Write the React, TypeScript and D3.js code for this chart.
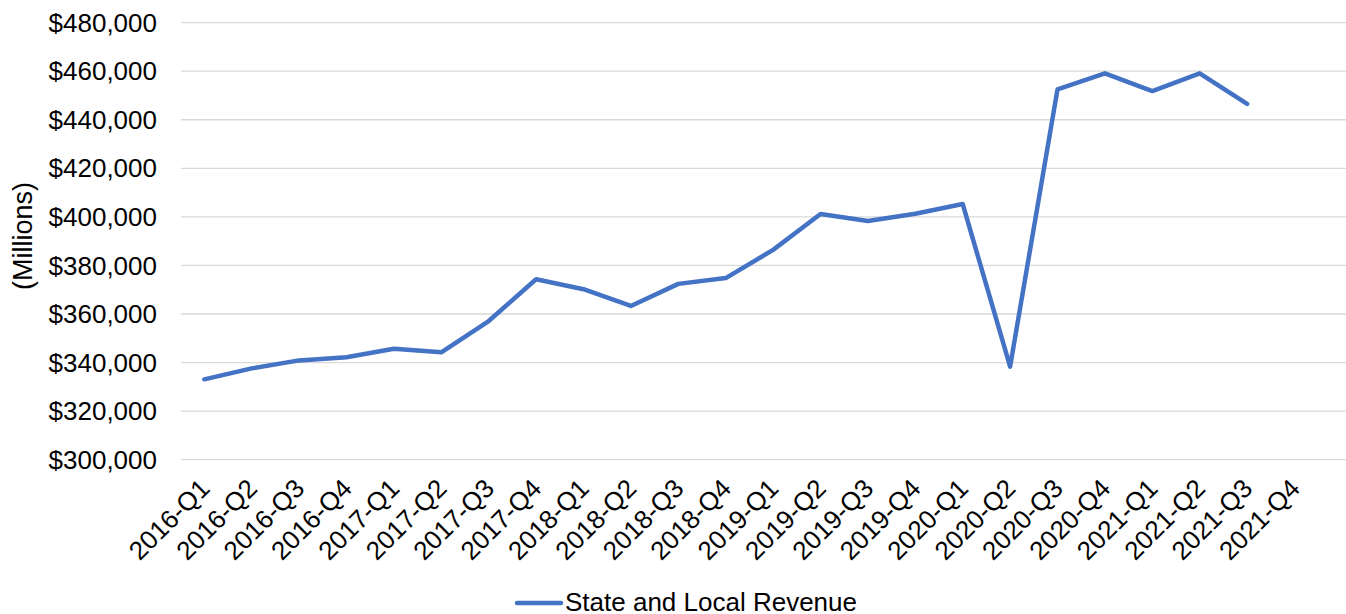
import React from "react";
import * as d3 from "d3";

const categories: string[] = [
  "2016-Q1", "2016-Q2", "2016-Q3", "2016-Q4",
  "2017-Q1", "2017-Q2", "2017-Q3", "2017-Q4",
  "2018-Q1", "2018-Q2", "2018-Q3", "2018-Q4",
  "2019-Q1", "2019-Q2", "2019-Q3", "2019-Q4",
  "2020-Q1", "2020-Q2", "2020-Q3", "2020-Q4",
  "2021-Q1", "2021-Q2", "2021-Q3", "2021-Q4",
];

const revenue: (number | null)[] = [
  333100, 337600, 340900, 342200,
  345700, 344200, 357100, 374300,
  370200, 363300, 372400, 374800,
  386400, 401200, 398300, 401300,
  405300, 338300, 452500, 459100,
  451800, 459100, 446500, null,
];

const yTicks: number[] = [300000, 320000, 340000, 360000, 380000, 400000, 420000, 440000, 460000, 480000];

const seriesName = "State and Local Revenue";
const yTitle = "(Millions)";

const W = 1346;
const H = 614;
const FONT = "'Liberation Sans', Arial, Helvetica, sans-serif";
const COLOR = "#4472C4";

export default function App() {
  const plotLeft = 180.6;
  const step = 47.4;
  const x = d3
    .scaleBand<string>()
    .domain(categories)
    .range([plotLeft, plotLeft + step * categories.length])
    .paddingInner(0)
    .paddingOuter(0);
  const y = d3.scaleLinear().domain([300000, 480000]).range([459.7, 22.6]);
  const fmt = (v: number) => "$" + d3.format(",")(v);

  const pts = categories.map((c, i) => ({ c, v: revenue[i] }));
  const line = d3
    .line<{ c: string; v: number | null }>()
    .defined((d) => d.v != null)
    .x((d) => (x(d.c) as number) + x.bandwidth() / 2)
    .y((d) => y(d.v as number));

  const gridLeft = 181;
  const gridRight = 1346;

  return (
    <svg
      width={W}
      height={H}
      style={{ position: "absolute", left: 0, top: 0, background: "#fff" }}
      fontFamily={FONT}
    >
      <rect x={0} y={0} width={W} height={H} fill="#fff" />
      {yTicks.map((t) => (
        <g key={t}>
          <line x1={gridLeft} x2={gridRight} y1={y(t)} y2={y(t)} stroke="#d9d9d9" strokeWidth={1.3} />
          <text x={157} y={y(t)} dy="0.35em" textAnchor="end" fontSize={26} fill="#000">
            {fmt(t)}
          </text>
        </g>
      ))}
      <text
        transform={`translate(32, ${236}) rotate(-90)`}
        textAnchor="middle"
        fontSize={27}
        fill="#000"
      >
        {yTitle}
      </text>
      {categories.map((c) => {
        const cx = (x(c) as number) + x.bandwidth() / 2;
        return (
          <text
            key={c}
            transform={`translate(${cx + 7}, ${490}) rotate(-45)`}
            textAnchor="end"
            fontSize={26}
            fill="#000"
          >
            {c}
          </text>
        );
      })}
      <path
        d={line(pts) || ""}
        fill="none"
        stroke={COLOR}
        strokeWidth={4.5}
        strokeLinejoin="round"
        strokeLinecap="round"
      />
      <line x1={517} x2={561} y1={603} y2={603} stroke={COLOR} strokeWidth={4.5} strokeLinecap="round" />
      <text x={565} y={611} fontSize={26} fill="#000">
        {seriesName}
      </text>
    </svg>
  );
}
